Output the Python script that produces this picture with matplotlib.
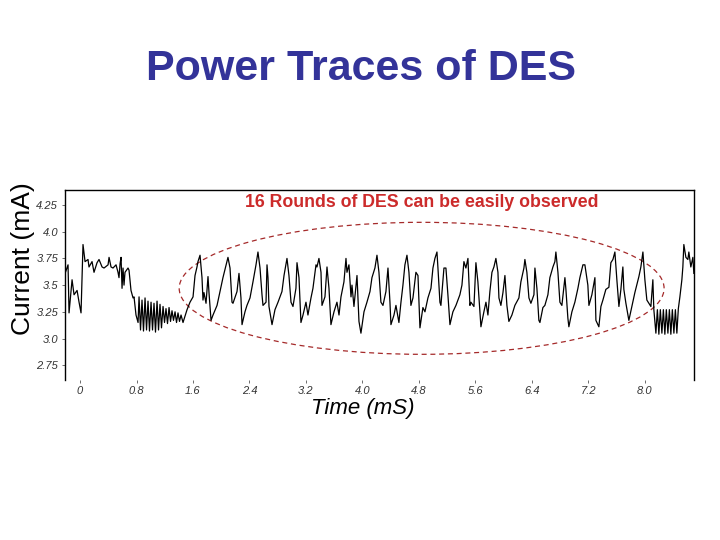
import matplotlib
matplotlib.use("Agg")
import matplotlib.pyplot as plt
from matplotlib.patches import Ellipse

plt.rcParams['font.family'] = ['Liberation Sans', 'DejaVu Sans']

# power trace: time (ms) and current (mA)
time_ms = [
    -0.212, -0.170, -0.156, -0.113, -0.085, -0.042, -0.014, 0.014, 0.042, 0.071,
    0.113, 0.127, 0.170, 0.198, 0.241, 0.269, 0.312, 0.340, 0.397, 0.411,
    0.439, 0.467, 0.510, 0.538, 0.552, 0.567, 0.581, 0.595, 0.609, 0.623,
    0.637, 0.680, 0.694, 0.722, 0.751, 0.765, 0.793, 0.822,
    0.836, 0.857, 0.878, 0.899, 0.921, 0.942, 0.963, 0.984, 1.006, 1.027,
    1.048, 1.069, 1.091, 1.112, 1.133, 1.154, 1.176, 1.197, 1.218, 1.239,
    1.261, 1.282, 1.303, 1.324, 1.346, 1.367, 1.388, 1.409, 1.431, 1.459,
    1.516, 1.558, 1.601, 1.629, 1.657, 1.671, 1.700, 1.728, 1.742, 1.756,
    1.785, 1.813, 1.827, 1.856, 1.884, 1.941, 1.983, 2.025, 2.082, 2.096,
    2.125, 2.153, 2.167, 2.224, 2.252, 2.280, 2.295, 2.337, 2.365, 2.408,
    2.450, 2.493, 2.521, 2.550, 2.578, 2.592, 2.635, 2.649, 2.663, 2.677,
    2.720, 2.762, 2.805, 2.861, 2.890, 2.932, 2.960, 2.989, 3.017, 3.059,
    3.074, 3.102, 3.130, 3.159, 3.201, 3.229, 3.272, 3.300, 3.343, 3.357,
    3.385, 3.414, 3.428, 3.470, 3.499, 3.527, 3.555, 3.598, 3.640, 3.669,
    3.697, 3.739, 3.768, 3.782, 3.810, 3.839, 3.853, 3.881, 3.924, 3.952,
    3.980, 4.023, 4.065, 4.108, 4.136, 4.178, 4.207, 4.235, 4.263, 4.292,
    4.334, 4.363, 4.391, 4.405, 4.448, 4.476, 4.518, 4.547, 4.575, 4.603,
    4.632, 4.660, 4.688, 4.717, 4.759, 4.788, 4.816, 4.858, 4.887, 4.929,
    4.972, 5.000, 5.028, 5.057, 5.071, 5.099, 5.113, 5.156, 5.184, 5.212,
    5.241, 5.283, 5.326, 5.382, 5.411, 5.439, 5.467, 5.496, 5.524, 5.538,
    5.581, 5.609, 5.637, 5.680, 5.722, 5.751, 5.779, 5.807, 5.836, 5.864,
    5.892, 5.921, 5.935, 5.963, 5.992, 6.020, 6.048, 6.076, 6.119, 6.161,
    6.218, 6.246, 6.289, 6.303, 6.331, 6.360, 6.388, 6.431, 6.445, 6.473,
    6.501, 6.516, 6.558, 6.586, 6.629, 6.657, 6.700, 6.728, 6.742, 6.771,
    6.799, 6.827, 6.870, 6.884, 6.912, 6.926, 6.969, 7.011, 7.054, 7.082,
    7.125, 7.153, 7.195, 7.210, 7.252, 7.295, 7.309, 7.351, 7.380, 7.408,
    7.450, 7.493, 7.521, 7.550, 7.578, 7.606, 7.635, 7.663, 7.691, 7.705,
    7.734, 7.776, 7.819, 7.861, 7.918, 7.946, 7.975, 8.003, 8.031, 8.059,
    8.088, 8.116, 8.130,
    8.159, 8.180, 8.201, 8.222, 8.244, 8.265, 8.286, 8.307, 8.329, 8.350,
    8.371, 8.392, 8.414, 8.435, 8.456, 8.477,
    8.499, 8.527, 8.541, 8.555, 8.584, 8.612, 8.626, 8.654, 8.683, 8.697,
]
current_ma = [
    3.61, 3.69, 3.24, 3.55, 3.41, 3.45, 3.34, 3.24, 3.88, 3.72,
    3.74, 3.67, 3.72, 3.62, 3.71, 3.74, 3.67, 3.66, 3.69, 3.76,
    3.67, 3.66, 3.69, 3.62, 3.57, 3.70, 3.76, 3.47, 3.66, 3.50,
    3.62, 3.66, 3.64, 3.45, 3.38, 3.39, 3.22, 3.15,
    3.39, 3.08, 3.36, 3.07, 3.38, 3.08, 3.35, 3.07, 3.34, 3.08,
    3.33, 3.06, 3.35, 3.08, 3.32, 3.10, 3.30, 3.15, 3.28, 3.14,
    3.29, 3.16, 3.26, 3.17, 3.25, 3.15, 3.24, 3.16, 3.22, 3.15,
    3.27, 3.34, 3.39, 3.59, 3.67, 3.72, 3.78, 3.57, 3.36, 3.43,
    3.33, 3.58, 3.43, 3.17, 3.22, 3.31, 3.44, 3.57, 3.72, 3.76,
    3.66, 3.34, 3.33, 3.44, 3.61, 3.38, 3.13, 3.25, 3.31, 3.38,
    3.53, 3.69, 3.81, 3.66, 3.41, 3.31, 3.34, 3.69, 3.57, 3.30,
    3.13, 3.27, 3.34, 3.44, 3.59, 3.75, 3.59, 3.34, 3.30, 3.47,
    3.71, 3.57, 3.15, 3.22, 3.34, 3.22, 3.38, 3.47, 3.69, 3.67,
    3.75, 3.62, 3.31, 3.39, 3.67, 3.47, 3.13, 3.25, 3.34, 3.22,
    3.39, 3.53, 3.75, 3.62, 3.69, 3.39, 3.50, 3.30, 3.59, 3.16,
    3.05, 3.25, 3.34, 3.44, 3.57, 3.66, 3.78, 3.62, 3.34, 3.31,
    3.44, 3.66, 3.34, 3.13, 3.22, 3.31, 3.15, 3.34, 3.50, 3.69,
    3.78, 3.62, 3.31, 3.38, 3.62, 3.59, 3.10, 3.29, 3.25, 3.38,
    3.47, 3.66, 3.75, 3.81, 3.66, 3.34, 3.31, 3.66, 3.66, 3.41,
    3.13, 3.25, 3.31, 3.41, 3.50, 3.72, 3.66, 3.75, 3.31, 3.34,
    3.30, 3.71, 3.53, 3.11, 3.25, 3.34, 3.22, 3.44, 3.62, 3.67,
    3.75, 3.62, 3.38, 3.31, 3.43, 3.59, 3.31, 3.16, 3.22, 3.31,
    3.38, 3.53, 3.66, 3.74, 3.62, 3.38, 3.33, 3.41, 3.66, 3.47,
    3.17, 3.15, 3.29, 3.31, 3.41, 3.57, 3.67, 3.72, 3.81, 3.62,
    3.34, 3.31, 3.57, 3.46, 3.19, 3.11, 3.25, 3.34, 3.47, 3.57,
    3.69, 3.69, 3.50, 3.31, 3.41, 3.57, 3.17, 3.11, 3.30, 3.36,
    3.46, 3.48, 3.71, 3.74, 3.81, 3.55, 3.30, 3.46, 3.67, 3.46,
    3.33, 3.17, 3.30, 3.43, 3.58, 3.67, 3.81, 3.55, 3.36, 3.33,
    3.30, 3.55, 3.27,
    3.05, 3.27, 3.04, 3.27, 3.05, 3.27, 3.04, 3.27, 3.05, 3.27,
    3.04, 3.27, 3.05, 3.27, 3.05, 3.28,
    3.39, 3.55, 3.67, 3.88, 3.76, 3.74, 3.81, 3.67, 3.76, 3.61,
]

x_ticks = [0, 0.8, 1.6, 2.4, 3.2, 4.0, 4.8, 5.6, 6.4, 7.2, 8.0]
x_labels = ['0', '0.8', '1.6', '2.4', '3.2', '4.0', '4.8', '5.6', '6.4', '7.2', '8.0']
y_ticks = [2.75, 3.0, 3.25, 3.5, 3.75, 4.0, 4.25]
y_labels = ['2.75', '3.0', '3.25', '3.5', '3.75', '4.0', '4.25']

fig = plt.figure(figsize=(7.2, 5.4), dpi=100)
fig.text(0.502, 0.872, 'Power Traces of DES', ha='center', va='center',
         fontsize=31, fontweight='bold', color='#333399')

ax = fig.add_axes([0.0896, 0.296, 0.8744, 0.352])
ax.plot(time_ms, current_ma, color='black', lw=0.9)
ax.set_xlim(-0.22, 8.70)
ax.set_ylim(2.61, 4.39)

ax.spines['bottom'].set_visible(False)
for s in ['left', 'top', 'right']:
    ax.spines[s].set_linewidth(1.0)

ax.set_xticks(x_ticks)
ax.set_xticklabels(x_labels, fontsize=8, style='italic', color='#333333')
ax.set_yticks(y_ticks)
ax.set_yticklabels(y_labels, fontsize=8, style='italic', color='#333333')
ax.tick_params(axis='both', length=2.5, width=0.6, color='#555555', pad=2)

ax.set_xlabel('Time (mS)', fontsize=16, style='italic')
ax.xaxis.set_label_coords(0.473, -0.095)
ax.set_ylabel('Current (mA)', fontsize=19)
ax.yaxis.set_label_coords(-0.047, 0.637)

# dashed ellipse around the 16 rounds
ell = Ellipse((4.84, 3.47), 6.87, 1.236, fill=False, ls=(0, (4, 3)),
              lw=0.9, edgecolor='#a52a2a', clip_on=False)
ax.add_patch(ell)

ax.text(4.84, 4.275, '16 Rounds of DES can be easily observed', ha='center',
        va='center', fontsize=12.8, fontweight='bold', color='#cc2b2b')

fig.savefig('out.png', dpi=100)
